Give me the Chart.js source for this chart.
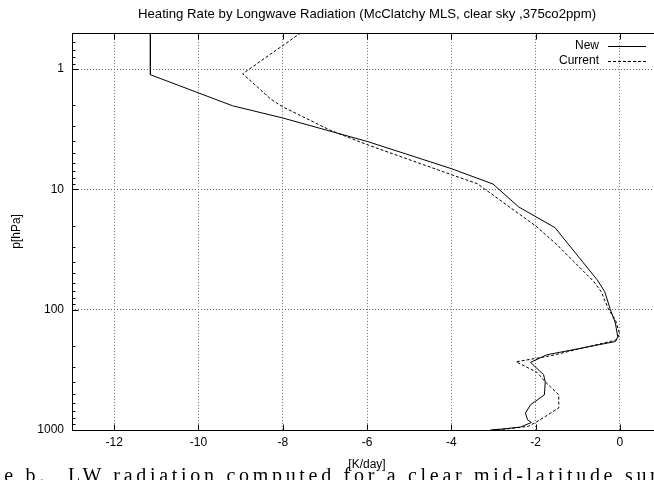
<!DOCTYPE html>
<html>
<head>
<meta charset="utf-8">
<script src="https://cdn.jsdelivr.net/npm/chart.js@4"></script>
<style>
  html, body { margin: 0; padding: 0; background: #fff; overflow: hidden; }
  #wrap { position: relative; width: 654px; height: 480px; overflow: hidden; }
  #chart { position: absolute; left: 0; top: 0; }
  .cap { position: absolute; top: 464px; font-family: 'Liberation Serif', serif; font-size: 20px; letter-spacing: 3.7px; color: #000; white-space: nowrap; }
</style>
</head>
<body>
<div id="wrap">
  <canvas id="chart" width="700" height="480"></canvas>
  <div class="cap" style="right: 606px;">Table b.</div>
  <div class="cap" style="left: 68px;">LW radiation computed for a clear mid-latitude summer</div>
</div>
<script>
// heating rate [K/day] vs pressure [hPa]
const newRate = [-11.14, -11.14, -9.19, -8.00, -5.99, -3.99, -3.01, -2.40, -1.54, -0.54, -0.36, -0.225, -0.107, -0.05, -0.107, -1.73, -2.12, -1.81, -1.77, -1.79, -2.12, -2.24, -2.19, -2.10, -2.36, -2.83, -3.07];
const newPres = [0.5, 1.115, 2.02, 2.55, 4.0, 6.74, 9.03, 14.0, 20.8, 56.4, 70.6, 100, 129, 168, 184, 237, 274, 347, 398, 510, 617, 724, 823, 866, 946, 984, 1000];

const curRate = [-7.57, -8.95, -8.28, -8.00, -6.86, -5.99, -3.99, -3.38, -2.00, -1.49, -0.62, -0.44, -0.265, -0.107, -0.01, -0.07, -1.65, -2.46, -1.96, -1.77, -1.45, -1.45, -1.77, -2.00, -2.17, -2.71, -3.07];
const curPres = [0.5, 1.094, 1.78, 2.06, 3.24, 4.26, 7.56, 8.98, 20.1, 28.9, 58.3, 71, 100, 121, 157, 178, 242, 271, 333, 398, 510, 655, 773, 866, 931, 984, 1000];

const xTicks = [-12, -10, -8, -6, -4, -2, 0];
const yTicks = [1, 10, 100, 1000];
const yMinor = [0.6, 0.7, 0.8, 0.9, 2, 3, 4, 5, 6, 7, 8, 9, 20, 30, 40, 50, 60, 70, 80, 90, 200, 300, 400, 500, 600, 700, 800, 900];

const FONT = "'Liberation Sans', Arial, sans-serif";

function toPoints(xs, ys) {
    return xs.map((x, i) => ({ x: x, y: ys[i] }));
}

// gnuplot style frame, inward tics and right-aligned legend
const gnuFrame = {
    id: 'gnuFrame',
    afterDraw(chart) {
        const ctx = chart.ctx;
        const a = chart.chartArea;
        const xs = chart.scales.x, ys = chart.scales.y;
        const L = Math.round(a.left) + 0.5, R = Math.round(a.right) + 0.5;
        const T = Math.round(a.top) + 0.5, B = Math.round(a.bottom) + 0.5;
        ctx.save();
        ctx.strokeStyle = '#000';
        ctx.lineWidth = 1;
        ctx.setLineDash([]);
        ctx.strokeRect(L, T, R - L, B - T);

        ctx.beginPath();
        xTicks.forEach(v => {
            const px = Math.round(xs.getPixelForValue(v)) + 0.5;
            ctx.moveTo(px, B); ctx.lineTo(px, B - 6);
            ctx.moveTo(px, T); ctx.lineTo(px, T + 6);
        });
        yTicks.forEach(v => {
            const py = Math.round(ys.getPixelForValue(v)) + 0.5;
            ctx.moveTo(L, py); ctx.lineTo(L + 6, py);
            ctx.moveTo(R, py); ctx.lineTo(R - 6, py);
        });
        yMinor.forEach(v => {
            const py = Math.round(ys.getPixelForValue(v)) + 0.5;
            ctx.moveTo(L, py); ctx.lineTo(L + 3, py);
            ctx.moveTo(R, py); ctx.lineTo(R - 3, py);
        });
        ctx.stroke();

        // legend
        ctx.font = '12px ' + FONT;
        ctx.fillStyle = '#000';
        ctx.textAlign = 'right';
        ctx.textBaseline = 'middle';
        chart.data.datasets.forEach((ds, i) => {
            const y = 46 + i * 15;
            ctx.fillText(ds.label, 599, y);
            ctx.beginPath();
            ctx.setLineDash(ds.borderDash || []);
            ctx.moveTo(608, y + 0.5);
            ctx.lineTo(646, y + 0.5);
            ctx.stroke();
        });
        ctx.restore();
    }
};

const ctx = document.getElementById('chart').getContext('2d');

new Chart(ctx, {
    type: 'line',
    data: {
        datasets: [{
            label: 'New',
            data: toPoints(newRate, newPres),
            borderColor: '#000',
            borderWidth: 1,
            pointRadius: 0,
            fill: false,
            tension: 0
        }, {
            label: 'Current',
            data: toPoints(curRate, curPres),
            borderColor: '#000',
            borderWidth: 1,
            borderDash: [3, 2],
            pointRadius: 0,
            fill: false,
            tension: 0
        }]
    },
    options: {
        responsive: false,
        animation: false,
        layout: { padding: { right: 38 } },
        plugins: {
            legend: { display: false },
            tooltip: { enabled: false },
            title: {
                display: true,
                fullSize: false,
                text: 'Heating Rate by Longwave Radiation (McClatchy MLS, clear sky ,375co2ppm)',
                color: '#000',
                font: { family: FONT, size: 13.2, weight: 'normal' },
                padding: { top: 6, bottom: 11 }
            }
        },
        scales: {
            x: {
                type: 'linear',
                min: -13,
                max: 1,
                afterBuildTicks: s => { s.ticks = xTicks.map(v => ({ value: v })); },
                afterFit: s => { s.height = 50; },
                ticks: {
                    color: '#000',
                    font: { family: FONT, size: 12 },
                    padding: 5,
                    callback: v => String(v)
                },
                grid: { color: '#666', drawTicks: false },
                border: { display: false, dash: [1, 2] },
                title: {
                    display: true,
                    text: '[K/day]',
                    color: '#000',
                    font: { family: FONT, size: 12 },
                    padding: { top: 0, bottom: 8 }
                }
            },
            y: {
                type: 'logarithmic',
                reverse: true,
                min: 0.5,
                max: 1000,
                afterBuildTicks: s => { s.ticks = yTicks.map(v => ({ value: v })); },
                afterFit: s => { s.width = 72; },
                ticks: {
                    color: '#000',
                    font: { family: FONT, size: 12 },
                    padding: 8,
                    callback: v => String(v)
                },
                grid: {
                    color: c => (c.tick && c.tick.value === 1000) ? 'rgba(0,0,0,0)' : '#666',
                    drawTicks: false
                },
                border: { display: false, dash: [1, 2] },
                title: {
                    display: true,
                    text: 'p[hPa]',
                    color: '#000',
                    font: { family: FONT, size: 12 },
                    padding: { top: 9, bottom: 0 }
                }
            }
        }
    },
    plugins: [gnuFrame]
});
</script>
</body>
</html>
